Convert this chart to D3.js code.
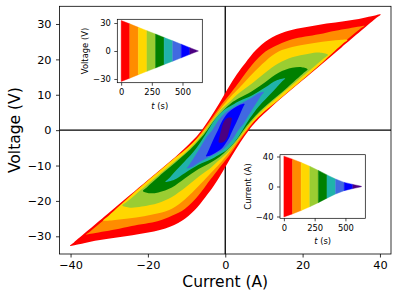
<!DOCTYPE html>
<html>
<head>
<meta charset="utf-8">
<script src="https://cdn.jsdelivr.net/npm/d3@7"></script>
<style>
  body { margin: 0; background: #fff; }
  svg { display: block; font-family: "DejaVu Sans", sans-serif; }
</style>
</head>
<body>
<div id="chart"></div>
<script>
// ---- data ----
const bandColors = ["#ff0000", "#ff8c00", "#ffd700", "#9acd32", "#008000",
                    "#20b2aa", "#4169e1", "#0000ff", "#4b0082"];

// inset envelopes, at the band boundaries (s)
const bandTimes = [0, 70, 140, 210, 280, 350, 420, 490, 560, 630];
const voltageEnvelope = [32.7, 29.1, 25.4, 21.8, 18.2, 14.5, 10.9, 7.3, 3.6, 0];
const currentEnvelope = [40.5, 36.5, 32, 27, 21.5, 15.5, 10, 5.5, 2.8, 0.3];

// upper branch of each loop, (current A, voltage V), left tip -> right tip
// lower branch is the same curve turned through the origin
const upperRed = [[-40.2,-32.7],[-39.2,-31.8],[-30,-23.3],[-20,-14.1],[-14,-8.6],[-10,-4.6],
  [-7.8,-2.2],[-6.1,0],[-4,3.3],[-1.7,7.3],[0.8,12],[3,15.8],[5.2,19],[8,22.7],[11.2,25.6],
  [15.5,27.8],[24,29.7],[32.8,31.1],[39,32.5],[40.2,32.7]];
const upperOrange = [[-36,-29.5],[-35,-28.7],[-28,-22.3],[-20,-14.9],[-14,-9.4],[-10,-5.4],
  [-7.4,-2.4],[-5.7,0],[-3.4,3.4],[-1,7.2],[1.5,10.6],[3.8,13.9],[6.9,18.4],[10.4,22.2],
  [13.8,24.2],[17.3,25.7],[24.2,27.1],[28.5,28.1],[34.8,29.3],[36,29.5]];
const upperGold = [[-31.6,-25.5],[-30.6,-24.6],[-25,-19],[-18,-12.4],[-13,-7.8],[-9.6,-4.8],
  [-7.2,-2.3],[-5.4,0],[-3.2,3.1],[-0.8,6.6],[1.8,9.9],[4.5,13],[6.9,15.8],[10.4,19.5],
  [13.8,22.2],[17.3,23.5],[21,24.3],[25.1,25],[29.5,25.5],[31.6,25.5]];
const upperYellowGreen = [[-26.6,-21.3],[-25.6,-20.4],[-20,-15.2],[-14,-9.7],[-10,-6],
  [-7.3,-3],[-5.1,0],[-3.1,3],[-0.8,6.1],[1.5,8.4],[3.5,10.4],[6.9,13.2],[10.4,16.3],
  [13.8,18.9],[17.3,20.6],[21.6,21.6],[24.6,21.9],[26.6,21.3]];
const upperGreen = [[-21.3,-17.2],[-20.3,-16.2],[-16,-12],[-12,-8.3],[-9,-5.4],[-6.6,-2.6],
  [-4.7,0],[-2.8,2.9],[-0.6,5.5],[1.5,7.6],[3.5,9],[6.9,11],[10.4,13.6],[13.8,16.2],
  [17.3,17.6],[19.8,17.8],[21.3,17.2]];
const upperSeaGreen = [[-15.5,-14.6],[-14.8,-13.9],[-12.5,-11.1],[-10.4,-8.7],[-8.6,-6.6],
  [-6.4,-3.4],[-4.45,0],[-2.6,3.1],[-0.4,5.6],[1.8,7.1],[3.8,8.3],[6.9,9.8],[10.4,12.1],
  [13.2,14],[15.5,14.6]];
const upperRoyalBlue = [[-10,-10.8],[-9.5,-10.1],[-8,-7.6],[-6.2,-4.4],[-4.6,-1.6],
  [-3.35,0],[-1.8,2.7],[0.2,5.1],[2.2,6.5],[4.5,7.8],[6.9,9.2],[8.6,10.4],[10,10.8]];
const upperBlue = [[-5,-7.4],[-4.7,-6.7],[-3.7,-4.2],[-2.8,-2],[-1.9,0],[-0.8,2.6],
  [0.6,4.8],[2.2,6.2],[3.7,7.1],[5,7.4]];
const upperIndigo = [[-1.7,-3.4],[-1.6,-2.5],[-1.05,0],[-0.3,2.5],[0.7,3.5],[1.7,3.4]];

const loops = [upperRed, upperOrange, upperGold, upperYellowGreen, upperGreen,
               upperSeaGreen, upperRoyalBlue, upperBlue, upperIndigo];

const xTicks = [-40, -20, 0, 20, 40];
const yTicks = [-30, -20, -10, 0, 10, 20, 30];

// ---- main chart ----
const margin = {top: 6.3, right: 7, bottom: 45, left: 59.5};
const width = 331.5;
const height = 247.7;

const svg = d3.select("#chart").append("svg")
    .attr("width", 398)
    .attr("height", 299);

const chart = svg.append("g")
    .attr("transform", "translate(" + margin.left + "," + margin.top + ")");

const x = d3.scaleLinear().domain([-42.86, 42.86]).range([0, width]);
const y = d3.scaleLinear().domain([-35, 35]).range([height, 0]);

// zero lines sit under the loops
chart.append("line")
    .attr("x1", 0).attr("x2", width)
    .attr("y1", y(0)).attr("y2", y(0))
    .attr("stroke", "#000").attr("stroke-width", 1.3);
chart.append("line")
    .attr("x1", x(0)).attr("x2", x(0))
    .attr("y1", 0).attr("y2", height)
    .attr("stroke", "#000").attr("stroke-width", 1.3);

function ring(upper) {
  return upper.concat(upper.slice(1, -1).map(p => [-p[0], -p[1]]));
}

const loopLine = d3.line()
    .x(d => x(d[0]))
    .y(d => y(d[1]))
    .curve(d3.curveCatmullRomClosed.alpha(0.5));

chart.append("g").selectAll("path")
    .data(loops)
    .enter().append("path")
    .attr("d", d => loopLine(ring(d)))
    .attr("fill", (d, i) => bandColors[i]);

chart.append("rect")
    .attr("width", width).attr("height", height)
    .attr("fill", "none").attr("stroke", "#000").attr("stroke-width", 0.8);

const fmt = d3.format("d");

const xAxis = chart.append("g")
    .attr("transform", "translate(0," + height + ")")
    .call(d3.axisBottom(x).tickValues(xTicks).tickFormat(fmt).tickSize(3.5).tickPadding(3.5));
const yAxis = chart.append("g")
    .call(d3.axisLeft(y).tickValues(yTicks).tickFormat(fmt).tickSize(3.5).tickPadding(4.5));

[xAxis, yAxis].forEach(a => {
  a.select(".domain").remove();
  a.selectAll("line").attr("stroke-width", 0.8);
  a.selectAll("text").attr("font-family", "DejaVu Sans").attr("font-size", 11.3).attr("fill", "#000");
});

chart.append("text")
    .attr("x", width / 2)
    .attr("y", 281)
    .attr("text-anchor", "middle")
    .attr("font-size", 15.5)
    .text("Current (A)");

chart.append("text")
    .attr("transform", "translate(" + (20 - margin.left) + "," + (height / 2) + ") rotate(-90)")
    .attr("text-anchor", "middle")
    .attr("font-size", 15.5)
    .text("Voltage (V)");

// ---- insets ----
function drawInset(box, yDom, env, ticks, label) {
  const g = svg.append("g").attr("transform", "translate(" + box.left + "," + box.top + ")");
  const xi = d3.scaleLinear().domain([-31.5, 661.5]).range([0, box.w]);
  const yi = d3.scaleLinear().domain(yDom).range([box.h, 0]);

  g.append("rect").attr("width", box.w).attr("height", box.h).attr("fill", "#fff");

  const area = d3.area()
      .x(d => xi(d[0]))
      .y0(d => yi(-d[1]))
      .y1(d => yi(d[1]));

  g.append("g").selectAll("path")
      .data(bandColors)
      .enter().append("path")
      .attr("d", (c, k) => area([[bandTimes[k], env[k]], [bandTimes[k + 1], env[k + 1]]]))
      .attr("fill", c => c)
      .attr("stroke", c => c)
      .attr("stroke-width", 0.4);

  g.append("rect")
      .attr("width", box.w).attr("height", box.h)
      .attr("fill", "none").attr("stroke", "#000").attr("stroke-width", 0.7);

  const ax = g.append("g")
      .attr("transform", "translate(0," + box.h + ")")
      .call(d3.axisBottom(xi).tickValues([0, 250, 500]).tickFormat(fmt).tickSize(3).tickPadding(3.5));
  const ay = g.append("g")
      .call(d3.axisLeft(yi).tickValues(ticks).tickFormat(fmt).tickSize(3).tickPadding(3.5));
  [ax, ay].forEach(a => {
    a.select(".domain").remove();
    a.selectAll("line").attr("stroke-width", 0.7);
    a.selectAll("text").attr("font-family", "DejaVu Sans").attr("font-size", 8.4).attr("fill", "#000");
  });

  const xl = g.append("text")
      .attr("x", box.w / 2)
      .attr("y", box.h + 26)
      .attr("text-anchor", "middle")
      .attr("font-size", 8.4);
  xl.append("tspan").attr("font-style", "italic").text("t");
  xl.append("tspan").text(" (s)");

  g.append("text")
      .attr("transform", "translate(-29.5," + (box.h / 2) + ") rotate(-90)")
      .attr("text-anchor", "middle")
      .attr("font-size", 8.4)
      .text(label);
}

drawInset({left: 117.3, top: 19.3, w: 85, h: 63.4}, [-34, 34], voltageEnvelope, [-30, 0, 30], "Voltage (V)");
drawInset({left: 280, top: 154.7, w: 85.3, h: 63.6}, [-42.4, 42.4], currentEnvelope, [-40, 0, 40], "Current (A)");
</script>
</body>
</html>
